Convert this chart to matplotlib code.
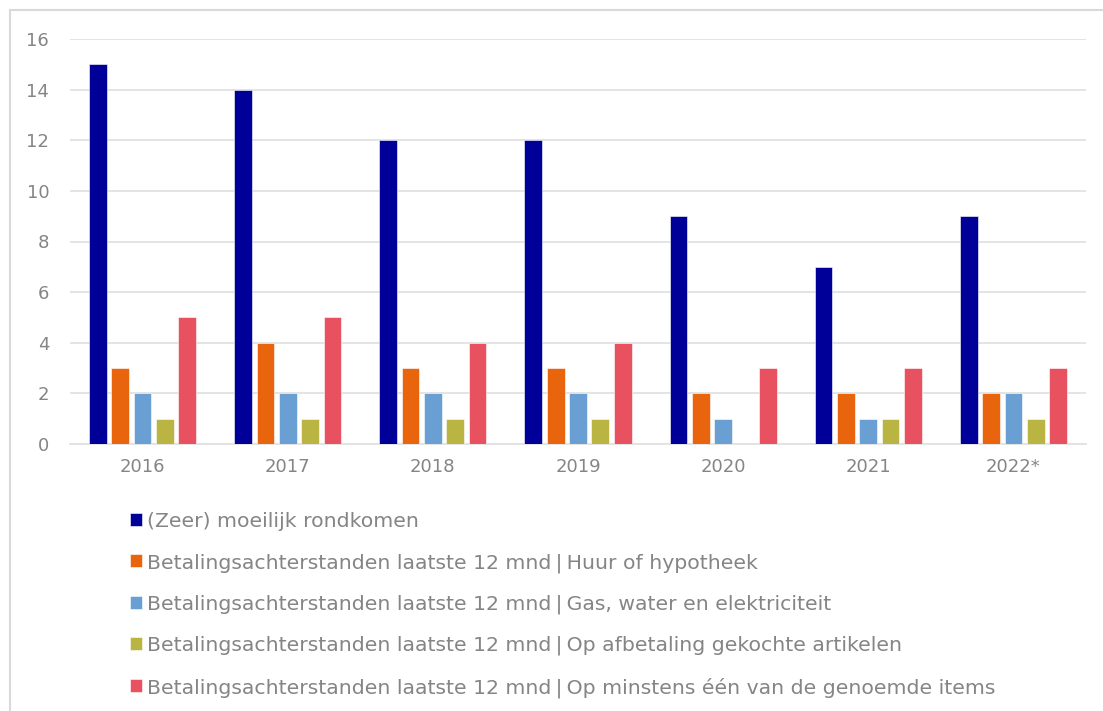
import matplotlib
matplotlib.use("Agg")
import matplotlib.pyplot as plt
import numpy as np
from matplotlib.lines import Line2D

years = ["2016", "2017", "2018", "2019", "2020", "2021", "2022*"]
moeilijk = [15, 14, 12, 12, 9, 7, 9]
huur = [3, 4, 3, 3, 2, 2, 2]
gas = [2, 2, 2, 2, 1, 1, 2]
afbetaling = [1, 1, 1, 1, 0, 1, 1]
minstens = [5, 5, 4, 4, 3, 3, 3]

labels = [
    "(Zeer) moeilijk rondkomen",
    "Betalingsachterstanden laatste 12 mnd\u2009|\u2009Huur of hypotheek",
    "Betalingsachterstanden laatste 12 mnd\u2009|\u2009Gas, water en elektriciteit",
    "Betalingsachterstanden laatste 12 mnd\u2009|\u2009Op afbetaling gekochte artikelen",
    "Betalingsachterstanden laatste 12 mnd\u2009|\u2009Op minstens één van de genoemde items",
]
colors = ["#000099", "#E8650E", "#6A9FD4", "#BAB443", "#E8515F"]
series = [moeilijk, huur, gas, afbetaling, minstens]

plt.rcParams['font.family'] = ['DejaVu Sans']
grey = "#858585"
light = "#E2E2E2"

fig = plt.figure(figsize=(11.03, 7.11), dpi=100)
# outer light frame (top and left only visible)
fig.lines.append(Line2D([9.5 / 1103, 1], [1 - 10 / 711, 1 - 10 / 711],
                        transform=fig.transFigure, color="#D9D9D9", linewidth=1.5))
fig.lines.append(Line2D([9.5 / 1103, 9.5 / 1103], [0, 1 - 10 / 711],
                        transform=fig.transFigure, color="#D9D9D9", linewidth=1.5))

ax = fig.add_axes([70 / 1103, 1 - 444 / 711, 1016 / 1103, 405 / 711])

x = np.arange(len(years))
step = 0.154
width = 0.122
handles = []
for i, (vals, col) in enumerate(zip(series, colors)):
    b = ax.bar(x + (i - 2) * step, vals, width, color=col,
               edgecolor="white", linewidth=0.4, zorder=3, label=labels[i])
    handles.append(b)

ax.set_xlim(-0.5, len(years) - 0.5)
ax.set_ylim(0, 16)
ax.set_yticks(range(0, 17, 2))
ax.set_xticks(x)
ax.set_xticklabels(years)
ax.yaxis.grid(True, color=light, linewidth=1.3, zorder=0)
for s in ["top", "right", "left"]:
    ax.spines[s].set_visible(False)
ax.spines["bottom"].set_color(light)
ax.spines["bottom"].set_linewidth(1.3)
ax.tick_params(axis="x", length=0, labelsize=13, colors=grey, pad=10)
ax.tick_params(axis="y", length=0, labelsize=13, colors=grey, pad=15)

leg = fig.legend(handles=handles, labels=labels, loc="upper left",
                 bbox_to_anchor=(122 / 1103, 1 - 504 / 711), frameon=False,
                 fontsize=14.7, labelcolor=grey, handlelength=0.6,
                 handleheight=0.6, handletextpad=0.2, labelspacing=1.07,
                 borderaxespad=0)

fig.savefig("out.png", dpi=100)
